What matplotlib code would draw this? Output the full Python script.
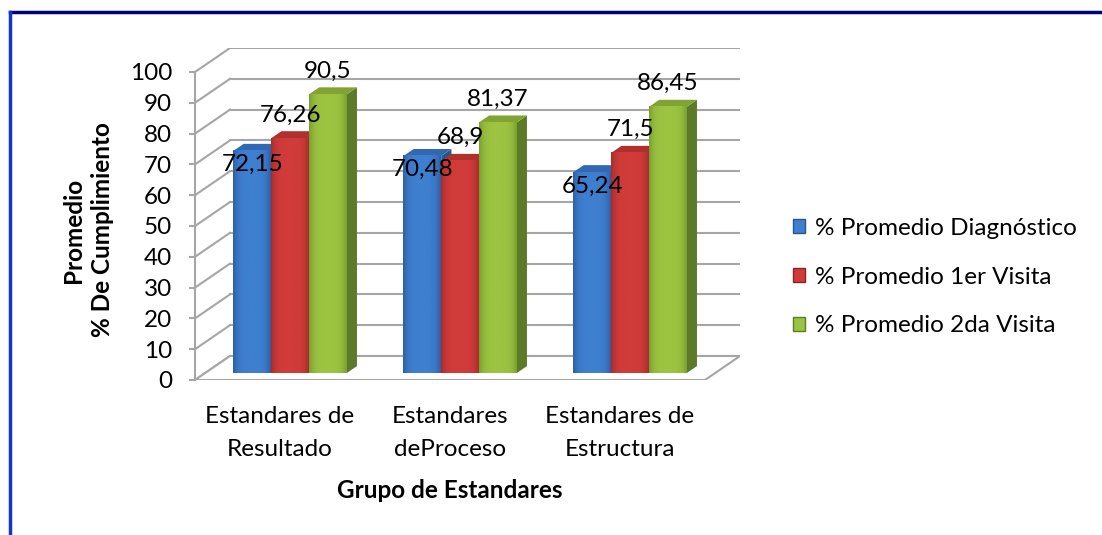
import matplotlib
matplotlib.use("Agg")
import numpy as np
import matplotlib.pyplot as plt
from matplotlib.patches import Polygon, Patch
from matplotlib.lines import Line2D
from matplotlib.colors import LinearSegmentedColormap

plt.rcParams['font.family'] = ['Lato', 'DejaVu Sans']

# datos
categorias = ["Estandares de\nResultado", "Estandares\ndeProceso", "Estandares de\nEstructura"]
series = ["% Promedio Diagnóstico", "% Promedio 1er Visita", "% Promedio 2da Visita"]
diagnostico = [72.15, 70.48, 65.24]
visita1 = [76.26, 68.9, 71.5]
visita2 = [90.5, 81.37, 86.45]
yticks = list(range(0, 101, 10))

# colores (frente, borde del frente, arriba, lado)
colores = [("#3F7FCF", "#2C5FA6", "#3068B3", "#28548F"),
           ("#D03C3A", "#A82C2A", "#B0302E", "#8A2422"),
           ("#9CC441", "#789F30", "#80A334", "#5C7B28")]
# posicion vertical de la etiqueta respecto a la barra
desfase_etq = [-4.5, 7.5, 7.5]
gris = "#A6A6A6"
fs = 17.5

W, H = 1102, 535
fig = plt.figure(figsize=(W / 100, H / 100), dpi=100)
ax = fig.add_axes([195 / W, 155 / H, 545 / W, 332 / H])

# profundidad simulada (en unidades de datos)
DX, DY = 35 / 170, 24 / 3.08
xmin, xmax = 0.5, 3.5 + DX
ymin, ymax = 0, 100 + DY

for v in yticks:
    ax.plot([0.5 + DX, 3.5 + DX], [v + DY, v + DY], color=gris, lw=1.5, zorder=1)
    ax.plot([0.5, 0.5 + DX], [v, v + DY], color=gris, lw=1.5, zorder=1)

piso = Polygon([(0.5, 0), (3.5, 0), (3.5 + DX, DY), (0.5 + DX, DY)],
               closed=True, fc="white", ec=gris, lw=1.5, zorder=2)
ax.add_patch(piso)

grad = (np.abs(np.linspace(-1, 1, 60)) ** 4)[None, :]
d0, d1 = 0.29, 0.58
w = 2 / 9
ddx, ddy = (d1 - d0) * DX, (d1 - d0) * DY
z = 3
for i in range(len(categorias)):
    for j, vals in enumerate([diagnostico, visita1, visita2]):
        v = vals[i]
        fc, ec, tc, sc = colores[j]
        cmap = LinearSegmentedColormap.from_list(f"c{j}", [fc, ec])
        xl = (i + 1) - 1 / 3 + j * w + d0 * DX
        yb = d0 * DY
        arriba = [(xl, yb + v), (xl + w, yb + v), (xl + w + ddx, yb + v + ddy), (xl + ddx, yb + v + ddy)]
        lado = [(xl + w, yb), (xl + w + ddx, yb + ddy), (xl + w + ddx, yb + v + ddy), (xl + w, yb + v)]
        ax.add_patch(Polygon(lado, closed=True, fc=sc, ec="none", zorder=z))
        ax.add_patch(Polygon(arriba, closed=True, fc=tc, ec="none", zorder=z))
        ax.imshow(grad, extent=[xl, xl + w, yb, yb + v], cmap=cmap, aspect="auto",
                  interpolation="bilinear", zorder=z + 0.5)
        z += 1
        ax.text(xl + w / 2, yb + v + desfase_etq[j], f"{v:g}".replace(".", ","),
                ha="center", va="center", fontsize=fs, zorder=50)

ax.set_xlim(xmin, xmax)
ax.set_ylim(ymin, ymax)

for s in ["top", "right", "bottom"]:
    ax.spines[s].set_visible(False)
ax.spines["left"].set_bounds(0, 100)
ax.spines["left"].set_color(gris)
ax.spines["left"].set_linewidth(1.5)
ax.set_yticks(yticks)
ax.tick_params(axis="y", direction="out", length=4.5, width=1.5, color=gris, pad=12, labelsize=fs)
ax.set_xticks([1, 2, 3], categorias)
ax.tick_params(axis="x", length=0, pad=19, labelsize=fs)
for t in ax.get_xticklabels():
    t.set_linespacing(1.68)
ax.patch.set_alpha(0)

fig.text(450 / W, 1 - 490 / H, "Grupo de Estandares", ha="center", va="center",
         fontsize=fs, fontweight="bold")
fig.text(88 / W, 1 - 230 / H, "Promedio\n% De Cumplimiento", ha="center", va="center",
         rotation=90, multialignment="center", fontsize=fs, fontweight="bold", linespacing=1.3)

handles = [Patch(facecolor=c[0], edgecolor=c[3]) for c in colores]
fig.legend(handles, series, loc="center left", bbox_to_anchor=(771 / W, 1 - 277 / H),
           frameon=False, fontsize=fs, handlelength=0.5, handleheight=0.5,
           handletextpad=0.4, labelspacing=1.15)

# marco
fig.add_artist(Line2D([10 / W, 1], [1 - 12 / H, 1 - 12 / H], color="#000080", lw=2.5))
fig.add_artist(Line2D([10 / W, 10 / W], [0, 1 - 12 / H], color="#1035D0", lw=2.5))

fig.savefig("out.png", dpi=100)
